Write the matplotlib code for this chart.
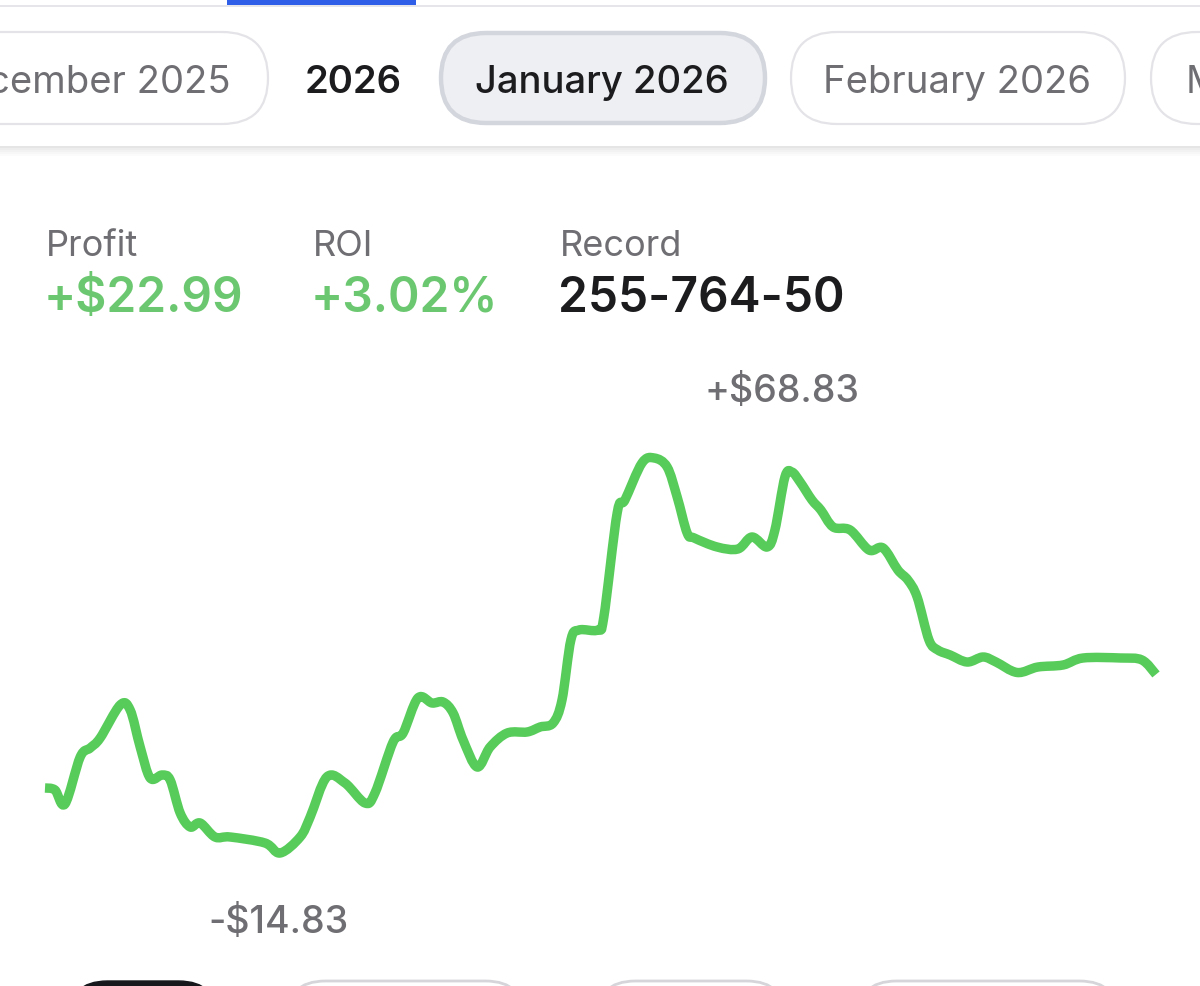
import matplotlib
matplotlib.use("Agg")
import matplotlib.pyplot as plt
from matplotlib.patches import FancyBboxPatch, Rectangle, PathPatch
from matplotlib.path import Path
import numpy as np

plt.rcParams['font.family'] = ['Inter', 'DejaVu Sans']

# ---------------- data ----------------
tabs = ["cember 2025", "2026", "January 2026", "February 2026", "M"]
stat_labels = ["Profit", "ROI", "Record"]
stat_values = ["+$22.99", "+3.02%", "255-764-50"]
max_label = "+$68.83"
min_label = "-$14.83"
y_min, y_max = -14.83, 68.83

days = [1.00, 1.27, 1.54, 1.95, 2.22, 2.49, 3.03, 3.30, 3.57, 3.84,
        4.16, 4.38, 4.65, 4.92, 5.19, 5.59, 6.00, 6.94, 7.35, 7.89,
        8.16, 8.61, 9.10, 9.64, 9.91, 10.40, 10.67, 11.07, 11.45, 11.75,
        12.02, 12.29, 12.67, 13.02, 13.48, 14.02, 14.37, 14.72, 14.96, 15.20,
        15.42, 15.93, 16.09, 16.45, 16.66, 17.12, 17.45, 17.80, 18.07, 18.34,
        18.53, 19.15, 19.71, 20.09, 20.50, 20.71, 20.98, 21.17, 21.39, 21.71,
        21.95, 22.28, 22.74, 23.25, 23.63, 24.03, 24.30, 24.55, 24.87, 25.11,
        25.44, 25.90, 26.33, 26.68, 27.25, 27.81, 28.49, 29.03, 30.05, 30.62,
        31.00]
profit = [-1.06, -1.49, -4.45, 5.50, 7.41, 9.53, 16.52, 15.46, 7.62, 1.05,
          1.69, 0.63, -6.36, -9.32, -8.48, -11.44, -11.44, -12.71, -14.83, -11.44,
          -7.21, 1.27, 0.00, -4.24, -2.12, 8.68, 10.58, 18.00, 16.94, 17.15,
          14.82, 9.10, 3.38, 7.62, 10.58, 10.80, 11.86, 12.70, 17.57, 30.28,
          32.40, 32.40, 35.15, 57.18, 59.93, 67.77, 68.83, 66.92, 60.57, 52.94,
          51.89, 49.98, 49.56, 52.10, 49.98, 53.58, 64.81, 65.86, 63.75, 59.93,
          57.82, 54.22, 53.58, 49.34, 49.77, 45.11, 42.99, 39.39, 30.28, 28.16,
          27.11, 25.62, 26.68, 25.62, 23.40, 24.56, 24.99, 26.47, 26.47, 26.05,
          22.99]

W, H = 1200, 986
fig = plt.figure(figsize=(W / 100, H / 100), dpi=100)
fig.patch.set_facecolor("white")

# overlay axes in pixel coordinates
ov = fig.add_axes([0, 0, 1, 1])
ov.set_xlim(0, W)
ov.set_ylim(0, H)
ov.axis("off")

def Y(y):
    return H - y

GRAY = "#6e6e73"
DARK = "#1c1c1f"
GREEN_TXT = "#6cc870"
GREEN_LINE = "#58cc5a"

# top divider with blue indicator
ov.add_patch(Rectangle((0, Y(7)), W, 2, color="#e6e6ea", lw=0))
ov.add_patch(Rectangle((227, Y(5)), 189, 5, color="#2f5ee8", lw=0))

# shadow under tab bar
for i, a in enumerate([0.10, 0.07, 0.05, 0.03, 0.015]):
    ov.add_patch(Rectangle((0, Y(148 + i * 2)), W, 2, color="black", alpha=a, lw=0))

def pill(x0, x1, y0, y1, fc, ec, lw):
    p = FancyBboxPatch((x0, Y(y1)), x1 - x0, y1 - y0,
                       boxstyle="round,pad=0,rounding_size=%f" % ((y1 - y0) / 2),
                       fc=fc, ec=ec, lw=lw, mutation_aspect=1)
    ov.add_patch(p)

pill(-120, 268, 32, 124, "white", "#e4e4e8", 1.6)
pill(441, 765, 33, 123, "#eeeff3", "#d3d6dd", 3.2)
pill(791, 1125, 32, 124, "white", "#e4e4e8", 1.6)
pill(1151, 1400, 32, 124, "white", "#e4e4e8", 1.6)

tab_fs = 27.5
ov.text(231, Y(93), tabs[0], ha="right", va="baseline", fontsize=tab_fs, color=GRAY)
ov.text(353, Y(93), tabs[1], ha="center", va="baseline", fontsize=tab_fs, color=DARK, fontweight="semibold")
ov.text(602, Y(93), tabs[2], ha="center", va="baseline", fontsize=tab_fs, color=DARK, fontweight="medium")
ov.text(957, Y(93), tabs[3], ha="center", va="baseline", fontsize=tab_fs, color=GRAY)
ov.text(1186, Y(93), tabs[4], ha="left", va="baseline", fontsize=tab_fs, color=GRAY)

# stats
xs = [46, 313, 560]
val_colors = [GREEN_TXT, GREEN_TXT, DARK]
for x, lab, val, c in zip(xs, stat_labels, stat_values, val_colors):
    ov.text(x, Y(256), lab, ha="left", va="baseline", fontsize=26, color=GRAY)
    ov.text(x - 2, Y(312), val, ha="left", va="baseline", fontsize=34.5, color=c, fontweight="semibold")

ov.text(705, Y(402), max_label, ha="left", va="baseline", fontsize=27, color=GRAY, fontweight="medium")
ov.text(208, Y(933), min_label, ha="left", va="baseline", fontsize=27, color=GRAY, fontweight="medium")

# bottom pills (partially visible)
pill(68, 218, 981, 1060, "#16181c", "#16181c", 1.0)
pill(286, 525, 981, 1060, "white", "#d6d6da", 2.0)
pill(596, 786, 981, 1060, "white", "#d6d6da", 2.0)
pill(857, 1119, 981, 1060, "white", "#d6d6da", 2.0)
pill(1193, 1400, 981, 1060, "white", "#d6d6da", 2.0)

# chart axes
x_left, x_right = 45, 1156
y_top_px, y_bot_px = 458, 853
ax = fig.add_axes([x_left / W, (H - y_bot_px) / H, (x_right - x_left) / W, (y_bot_px - y_top_px) / H])
ax.set_xlim(days[0], days[-1])
ax.set_ylim(y_min, y_max)
ax.axis("off")
ax.patch.set_alpha(0)

# smooth curve via Catmull-Rom -> cubic Bezier
px = np.array(days)
py = np.array(profit)
verts = [(px[0], py[0])]
codes = [Path.MOVETO]
n = len(px)
for i in range(n - 1):
    p0 = (px[max(i - 1, 0)], py[max(i - 1, 0)])
    p1 = (px[i], py[i])
    p2 = (px[i + 1], py[i + 1])
    p3 = (px[min(i + 2, n - 1)], py[min(i + 2, n - 1)])
    c1 = (p1[0] + (p2[0] - p0[0]) / 6, p1[1] + (p2[1] - p0[1]) / 6)
    c2 = (p2[0] - (p3[0] - p1[0]) / 6, p2[1] - (p3[1] - p1[1]) / 6)
    verts += [c1, c2, p2]
    codes += [Path.CURVE4] * 3
path = Path(verts, codes)
ax.add_patch(PathPatch(path, fc="none", ec=GREEN_LINE, lw=6.8, capstyle="butt",
                       joinstyle="round", clip_on=False))

fig.savefig("out.png", dpi=100, facecolor="white")
